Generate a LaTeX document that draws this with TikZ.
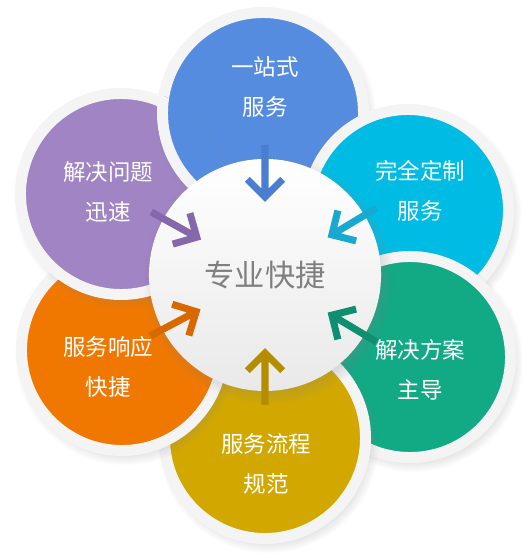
\documentclass[tikz,border=0pt]{standalone}
\usepackage{fontspec}
\newfontfamily\cjk{Noto Sans CJK SC}
\usepackage{xcolor}
\usepackage{tikz}
\usetikzlibrary{calc, shadows}
\definecolor{bluefill}{HTML}{568CE0}
\definecolor{cyanfill}{HTML}{00BCE4}
\definecolor{greenfill}{HTML}{12A985}
\definecolor{goldfill}{HTML}{D2A800}
\definecolor{orangefill}{HTML}{F07800}
\definecolor{purplefill}{HTML}{A084C4}
\definecolor{bluearrow}{HTML}{4A7ED0}
\definecolor{cyanarrow}{HTML}{17A9CF}
\definecolor{greenarrow}{HTML}{0E8F6F}
\definecolor{goldarrow}{HTML}{B58E00}
\definecolor{orangearrow}{HTML}{D86800}
\definecolor{purplearrow}{HTML}{8567AC}
\definecolor{ringwhite}{HTML}{F4F4F4}
\definecolor{hubgray}{HTML}{E9E9E9}
\definecolor{hubtext}{HTML}{7F7F7F}

\begin{document}
\begin{tikzpicture}[
    x=0.025cm, y=0.025cm,
    petal/.style={circle, minimum size=5.025cm, inner sep=0pt, outer sep=0pt,
        draw=ringwhite, line width=7.8pt,
        circular drop shadow={shadow xshift=2pt, shadow yshift=-3pt, shadow scale=1.1, opacity=0.3}},
    petaltext/.style={text=white, align=center, font=\cjk\fontsize{16}{28.5}\selectfont},
    hub/.style={circle, minimum size=5.8cm, inner sep=0pt, top color=white, bottom color=hubgray,
        circular drop shadow={shadow xshift=2pt, shadow yshift=-3pt, shadow scale=1.08, opacity=0.3},
        text=hubtext, font=\cjk\fontsize{21.5}{26}\selectfont},
    arrowline/.style={line width=5pt, line join=miter},
]
    \useasboundingbox (0,0) rectangle (521,558);

    % Petals round the hub
    \node[petal, fill=bluefill] (blue) at (263,445) {};
    \node[petal, fill=cyanfill] (cyan) at (408,348) {};
    \node[petal, fill=greenfill] (green) at (410,201) {};
    \node[petal, fill=goldfill] (gold) at (265,120) {};
    \node[petal, fill=orangefill] (orange) at (122,208) {};
    \node[petal, fill=purplefill] (purple) at (121,364) {};

    % Blue lies over purple
    \begin{scope}
        \clip (purple.center) circle (107);
        \node[petal, fill=bluefill] (blueover) at (blue.center) {};
    \end{scope}

    % Labels
    \node[petaltext] (bluetext) at (265,471) {一站式\\服务};
    \node[petaltext] (cyantext) at (420,367) {完全定制\\服务};
    \node[petaltext] (greentext) at (420,188) {解决方案\\主导};
    \node[petaltext] (goldtext) at (266,94) {服务流程\\规范};
    \node[petaltext] (orangetext) at (108,191) {服务响应\\快捷};
    \node[petaltext] (purpletext) at (108,366) {解决问题\\迅速};

    % Hub
    \node[hub] (hub) at (265,283) {专业快捷};

    % Arrows into the hub
    \draw[arrowline, bluearrow] ($(hub.center)+(90:130)$) -- ($(hub.center)+(90:78)$) ++(135:25) -- ++(315:25) -- ++(45:25);
    \draw[arrowline, cyanarrow] ($(hub.center)+(31:130)$) -- ($(hub.center)+(31:78)$) ++(76:25) -- ++(256:25) -- ++(-14:25);
    \draw[arrowline, greenarrow] ($(hub.center)+(-31:130)$) -- ($(hub.center)+(-31:78)$) ++(14:25) -- ++(194:25) -- ++(-76:25);
    \draw[arrowline, goldarrow] ($(hub.center)+(-90:130)$) -- ($(hub.center)+(-90:78)$) ++(-45:25) -- ++(135:25) -- ++(-135:25);
    \draw[arrowline, orangearrow] ($(hub.center)+(-152:130)$) -- ($(hub.center)+(-152:78)$) ++(-107:25) -- ++(73:25) -- ++(163:25);
    \draw[arrowline, purplearrow] ($(hub.center)+(151:130)$) -- ($(hub.center)+(151:78)$) ++(196:25) -- ++(16:25) -- ++(106:25);
\end{tikzpicture}
\end{document}
